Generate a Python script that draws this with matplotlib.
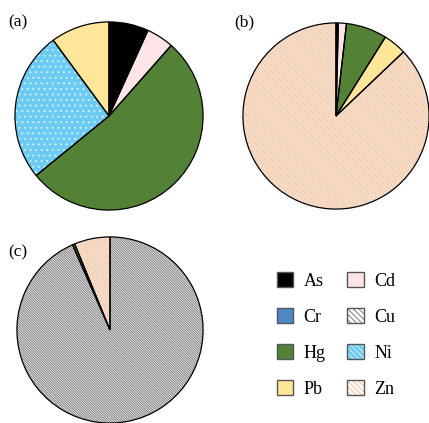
import matplotlib.pyplot as plt
from matplotlib.colors import to_rgba
from matplotlib.patches import Patch

plt.rcParams['font.family'] = ['Liberation Serif', 'DejaVu Serif']
plt.rcParams['hatch.linewidth'] = 0.7

W, H = 429, 423

elements = ['As', 'Cd', 'Cr', 'Cu', 'Hg', 'Ni', 'Pb', 'Zn']
share_a = [6.8, 4.7, 0.0, 0.0, 52.6, 25.8, 10.1, 0.0]
share_b = [0.4, 1.4, 0.0, 0.0, 7.1, 0.0, 4.0, 87.1]
share_c = [0.0, 0.0, 0.0, 93.4, 0.4, 0.0, 0.0, 6.2]

# face colour, hatch, hatch colour
styles = {
    'As': ('#000000', None, None),
    'Cd': ('#fde4e6', None, None),
    'Cr': ('#4f86c6', None, None),
    'Cu': ('#ffffff', '\\' * 14, '#7a7a7a'),
    'Hg': ('#538135', None, None),
    'Ni': ('#6ccbf3', '...', '#d2f0fd'),
    'Pb': ('#ffe699', None, None),
    'Zn': ('#ffffff', '\\' * 14, '#f6bc94'),
}

fig = plt.figure(figsize=(W / 100, H / 100), dpi=100)


def pie_axes(cx, cy, r):
    ax = fig.add_axes([(cx - r) / W, 1 - (cy + r) / H, 2 * r / W, 2 * r / H])
    return ax


def draw_pie(ax, shares):
    keep = [(e, v) for e, v in zip(elements, shares) if v > 0]
    names = [e for e, _ in keep]
    vals = [v for _, v in keep]
    wedges, _ = ax.pie(vals, startangle=90, counterclock=False, radius=1,
                       colors=[styles[n][0] for n in names])
    for w, n in zip(wedges, names):
        face, hatch, hcol = styles[n]
        if hatch:
            w.set_hatch(hatch)
            w.set_edgecolor(hcol)
            w.set_linewidth(0)
        else:
            w.set_edgecolor('none')
    ax.pie(vals, startangle=90, counterclock=False, radius=1,
           colors=['none'] * len(vals),
           wedgeprops=dict(edgecolor='black', linewidth=0.9, fill=False))
    ax.set_xlim(-1.01, 1.01)
    ax.set_ylim(-1.01, 1.01)
    ax.set_aspect('equal')
    ax.axis('off')


ax_a = pie_axes(109, 116, 95)
draw_pie(ax_a, share_a)
ax_b = pie_axes(336, 116, 94)
draw_pie(ax_b, share_b)
ax_c = pie_axes(110, 330, 94)
draw_pie(ax_c, share_c)

fig.text(8 / W, 1 - 22 / H, '(a)', fontsize=12.5, va='center')
fig.text(234 / W, 1 - 22 / H, '(b)', fontsize=12.5, va='center')
fig.text(8 / W, 1 - 252 / H, '(c)', fontsize=12.5, va='center')

order = ['As', 'Cr', 'Hg', 'Pb', 'Cd', 'Cu', 'Ni', 'Zn']
handles = []
for n in order:
    face, hatch, hcol = styles[n]
    p = Patch(facecolor=face, edgecolor='#555555', linewidth=1.0, label=n)
    if hatch:
        p.set_hatch('\\' * 6)
        p._hatch_color = to_rgba(hcol)
    handles.append(p)
fig.legend(handles=handles, ncol=2, frameon=False, fontsize=13,
           loc='center', bbox_to_anchor=(336 / W, 1 - 335 / H),
           handlelength=0.9, handleheight=0.9, handletextpad=0.6,
           columnspacing=1.2, labelspacing=1.0)

fig.savefig('out.png', dpi=100)
